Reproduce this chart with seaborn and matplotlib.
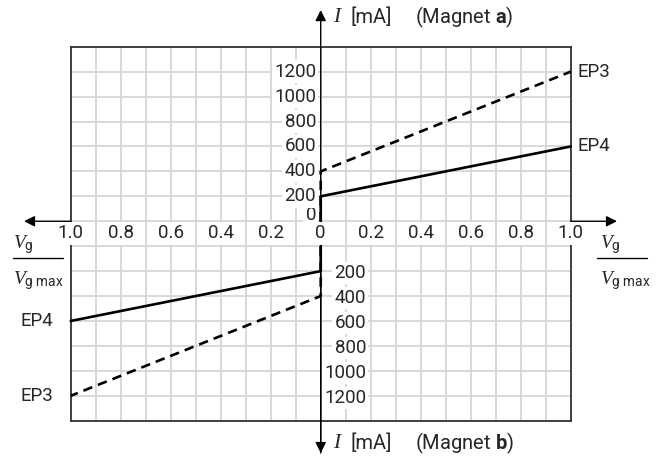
import matplotlib
matplotlib.use("Agg")
import numpy as np
import pandas as pd
import matplotlib.pyplot as plt
import seaborn as sns

# --- data ---
vg_ticks = [-1.0, -0.8, -0.6, -0.4, -0.2, 0.0, 0.2, 0.4, 0.6, 0.8, 1.0]
vg_labels = ["1.0", "0.8", "0.6", "0.4", "0.2", "0", "0.2", "0.4", "0.6", "0.8", "1.0"]
i_ticks_a = [0, 200, 400, 600, 800, 1000, 1200]
i_ticks_b = [200, 400, 600, 800, 1000, 1200]

# magnet a (upper half), Vg/Vg max vs current in mA
ep3_a_vg = [0.0, 0.0, 1.0]
ep3_a_i = [0, 400, 1200]
ep4_a_vg = [0.0, 0.0, 1.0]
ep4_a_i = [0, 200, 600]
# magnet b (lower half, drawn to the left / downward)
ep3_b_vg = [0.0, 0.0, 1.0]
ep3_b_i = [0, 400, 1200]
ep4_b_vg = [0.0, 0.0, 1.0]
ep4_b_i = [0, 200, 600]

B_SHIFT = 200  # lower half starts one grid row below the horizontal axis

sns.set_style("white")
plt.rcParams["font.family"] = ["Roboto", "DejaVu Sans"]
plt.rcParams["mathtext.fontset"] = "custom"
plt.rcParams["mathtext.it"] = "Liberation Serif:italic"
plt.rcParams["mathtext.rm"] = "Roboto"
plt.rcParams["mathtext.bf"] = "Roboto:bold"

fig = plt.figure(figsize=(6.56, 4.59), dpi=100)
ax = fig.add_axes([0.1078, 0.0834, 0.7622, 0.8148])
ax.set_xlim(-1, 1)
ax.set_ylim(-1600, 1400)
ax.set_xticks(np.arange(-1.0, 1.01, 0.1))
ax.set_yticks(np.arange(-1600, 1401, 200))
ax.tick_params(length=0, labelleft=False, labelbottom=False)
ax.grid(True, color="#d6d6d6", lw=1.3)
ax.set_axisbelow(True)
for s in ax.spines.values():
    s.set_color("#333333")
    s.set_linewidth(1.3)

lw = 1.9
dash = (0, (3.6, 2.3))
df_a4 = pd.DataFrame({"x": ep4_a_vg, "y": ep4_a_i})
df_a3 = pd.DataFrame({"x": ep3_a_vg, "y": ep3_a_i})
df_b4 = pd.DataFrame({"x": [-v for v in ep4_b_vg], "y": [-(i + B_SHIFT) for i in ep4_b_i]})
df_b3 = pd.DataFrame({"x": [-v for v in ep3_b_vg], "y": [-(i + B_SHIFT) for i in ep3_b_i]})
for d, ls in [(df_a4, "-"), (df_a3, dash), (df_b4, "-"), (df_b3, dash)]:
    sns.lineplot(data=d, x="x", y="y", sort=False, estimator=None, color="black",
                 lw=lw, linestyle=ls, ax=ax, zorder=4, clip_on=False)
ax.set_xlabel("")
ax.set_ylabel("")

# axes with arrows
arrow = dict(arrowstyle="-|>", color="black", lw=1.0, mutation_scale=16,
             shrinkA=0, shrinkB=0)
ax.annotate("", xy=(0.5, 1.098), xytext=(0.5, -0.0864), xycoords="axes fraction",
            arrowprops=arrow, zorder=3)
ax.annotate("", xy=(0.5, -0.0864), xytext=(0.5, 0.5), xycoords="axes fraction",
            arrowprops=arrow, zorder=3)
y0 = (0 + 1600) / 3000
ax.annotate("", xy=(-0.0934, y0), xytext=(0, y0), xycoords="axes fraction",
            arrowprops=arrow)
ax.annotate("", xy=(1.0926, y0), xytext=(1, y0), xycoords="axes fraction",
            arrowprops=arrow)

fs = 13.5
box = dict(boxstyle="square,pad=0.12", fc="white", ec="none")
for v, lab in zip(vg_ticks, vg_labels):
    ax.annotate(lab, (v, 0), xytext=(0, -12), textcoords="offset pixels",
                ha="center", va="center", fontsize=fs, bbox=box, zorder=6)
for i in i_ticks_a:
    dy = 6 if i == 0 else 0
    ax.annotate(str(i), (0, i), xytext=(-4.5, dy), textcoords="offset pixels",
                ha="right", va="center", fontsize=fs, bbox=box, zorder=2)
for i in i_ticks_b:
    ax.annotate(str(i), (0, -(i + B_SHIFT)), xytext=(45.5, -2), textcoords="offset pixels",
                ha="right", va="center", fontsize=fs, bbox=box, zorder=2)

# curve labels
ax.annotate("EP3", (1.0, ep3_a_i[-1]), xytext=(6.5, 0), textcoords="offset pixels",
            ha="left", va="center", fontsize=fs, annotation_clip=False)
ax.annotate("EP4", (1.0, ep4_a_i[-1]), xytext=(6.5, 0), textcoords="offset pixels",
            ha="left", va="center", fontsize=fs, annotation_clip=False)
ax.annotate("EP4", (-1.0, -(ep4_b_i[-1] + B_SHIFT)), xytext=(-17.4, 0),
            textcoords="offset pixels", ha="right", va="center", fontsize=fs,
            annotation_clip=False)
ax.annotate("EP3", (-1.0, -(ep3_b_i[-1] + B_SHIFT)), xytext=(-17.4, 0),
            textcoords="offset pixels", ha="right", va="center", fontsize=fs,
            annotation_clip=False)

# axis titles: italic I, unit, magnet name
for ty, mag in ((1.0794, "a"), (-0.0596, "b")):
    ax.text((333 - 70.7) / 500, ty, "I", transform=ax.transAxes, ha="left",
            va="center", fontsize=15.5, family="Liberation Serif", style="italic")
    ax.text((350 - 70.7) / 500, ty, "[mA]", transform=ax.transAxes, ha="left",
            va="center", fontsize=14.5)
    ax.text((415 - 70.7) / 500, ty, "(Magnet $\\mathbf{%s}$)" % mag,
            transform=ax.transAxes, ha="left", va="center", fontsize=14.5)

for x0 in (-0.1154, 1.0586):
    ax.text(x0, 0.4698, r"$V_{\mathrm{g}}$", transform=ax.transAxes,
            ha="left", va="center", fontsize=14)
    ax.text(x0, 0.3735, r"$V_{\mathrm{g\ max}}$", transform=ax.transAxes,
            ha="left", va="center", fontsize=14)
for xa, xb in ((-0.1160, -0.0160), (1.0526, 1.1526)):
    ax.plot([xa, xb], [0.4358, 0.4358], transform=ax.transAxes, color="black",
            lw=1.0, clip_on=False)

fig.savefig("out.png", dpi=100)
